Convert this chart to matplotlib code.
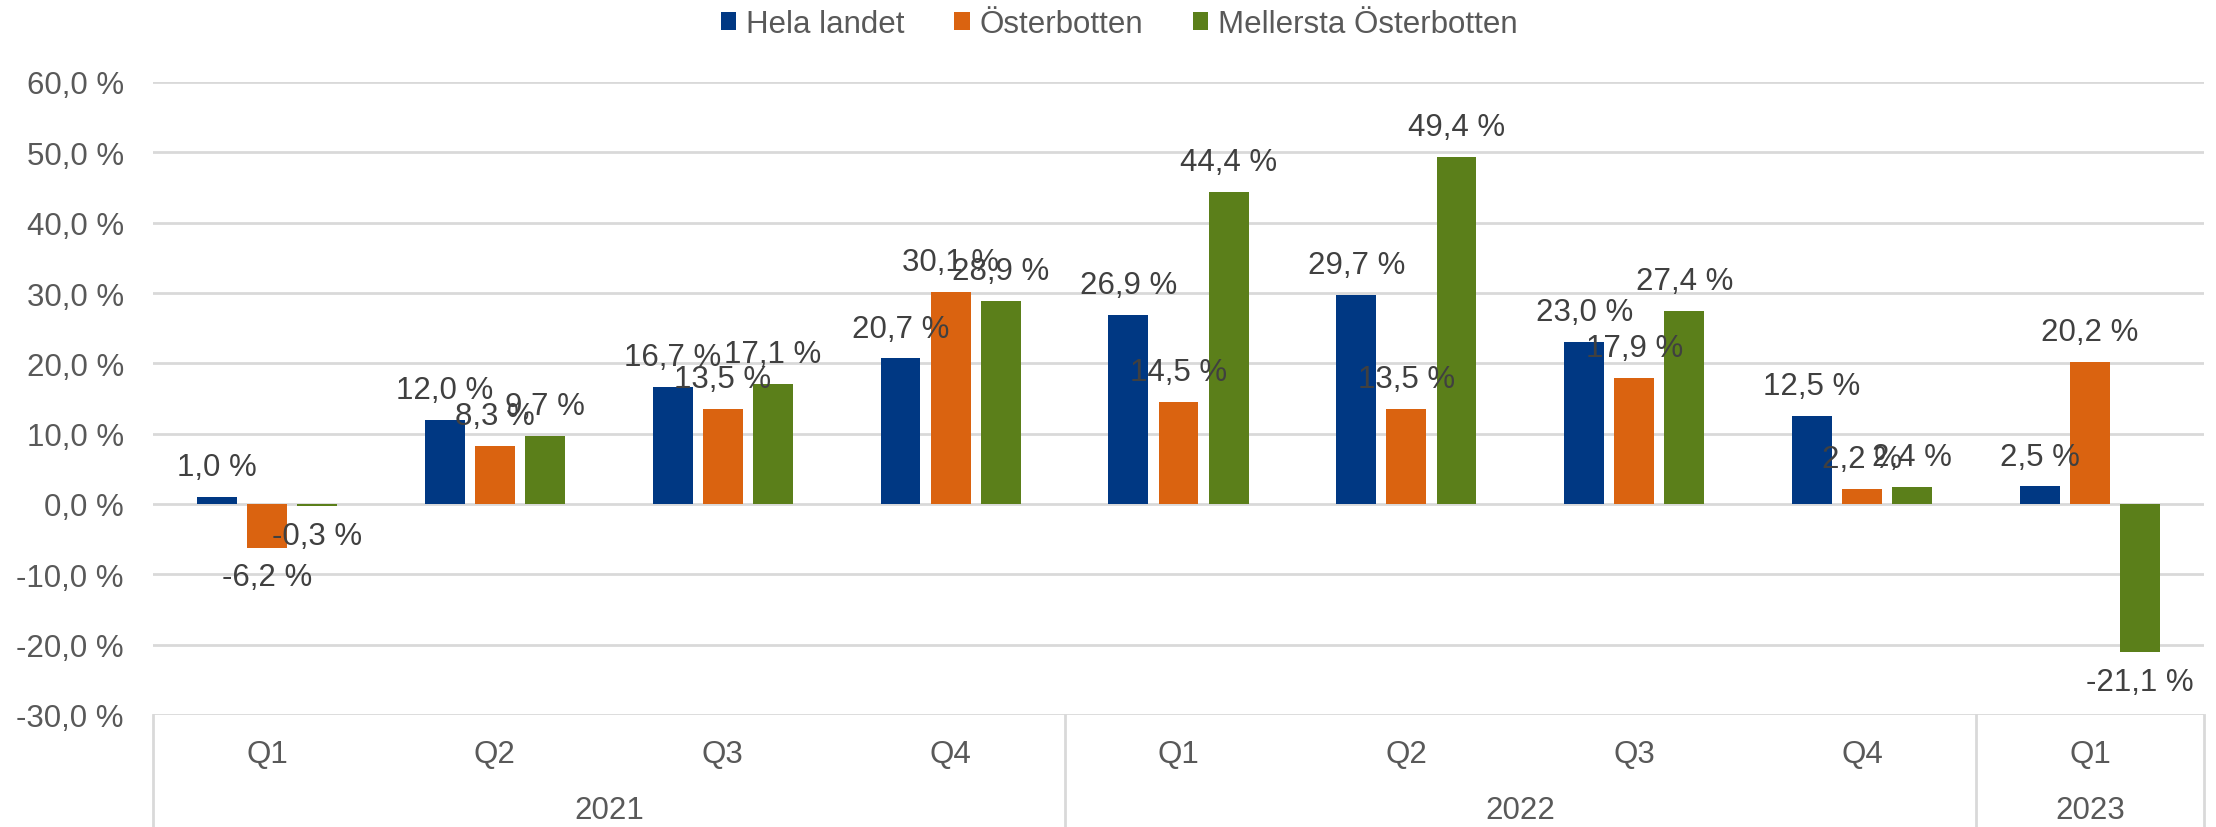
import numpy as np
import matplotlib
matplotlib.use("Agg")
import matplotlib.pyplot as plt
from matplotlib.patches import Patch
from matplotlib.ticker import FuncFormatter

plt.rcParams["font.family"] = ["Liberation Sans", "DejaVu Sans"]

# Data
quarters = ["Q1", "Q2", "Q3", "Q4", "Q1", "Q2", "Q3", "Q4", "Q1"]
years = ["2021", "2022", "2023"]
year_spans = [(0, 3), (4, 7), (8, 8)]
series_names = ["Hela landet", "Österbotten", "Mellersta Österbotten"]
hela_landet = [1.0, 12.0, 16.7, 20.7, 26.9, 29.7, 23.0, 12.5, 2.5]
osterbotten = [-6.2, 8.3, 13.5, 30.1, 14.5, 13.5, 17.9, 2.2, 20.2]
mellersta = [-0.3, 9.7, 17.1, 28.9, 44.4, 49.4, 27.4, 2.4, -21.1]
colors = ["#003883", "#DA6310", "#5B7F1A"]

FS = 22.5
W, H = 2216, 828
fig = plt.figure(figsize=(W / 100, H / 100), dpi=100)
left, right, top, bottom = 153, 2204, 83, 716
ax = fig.add_axes([left / W, (H - bottom) / H, (right - left) / W, (bottom - top) / H])

x = np.arange(len(quarters))
width = 0.175
step = 0.22
for i, (vals, name, col) in enumerate(zip([hela_landet, osterbotten, mellersta], series_names, colors)):
    xs = x + (i - 1) * step
    ax.bar(xs, vals, width, color=col, label=name, zorder=3)
    for xv, v in zip(xs, vals):
        lab = f"{v:.1f}".replace(".", ",") + " %"
        off = 21.5 if v >= 0 else -21.5
        ax.annotate(lab, (xv, v), xytext=(0, off), textcoords="offset points",
                    ha="center", va="center", fontsize=FS, color="#404040", zorder=5)

ax.set_xlim(-0.5, len(quarters) - 0.5)
ax.set_ylim(-30, 60)
ax.set_yticks(np.arange(-30, 61, 10))
ax.yaxis.set_major_formatter(FuncFormatter(lambda v, p: f"{v:.1f}".replace(".", ",") + " %"))
ax.tick_params(axis="y", length=0, pad=21, labelsize=FS, labelcolor="#595959")
ax.set_xticks([])
ax.grid(axis="y", color="#D9D9D9", linewidth=2, zorder=0)
for s in ax.spines.values():
    s.set_visible(False)

# category axis (quarters + years)
trans = ax.get_xaxis_transform()
ybot = -(H - bottom) / (bottom - top)
for xv in [-0.5, 3.5, 7.5, 8.5]:
    ax.plot([xv, xv], [0, ybot], transform=trans, color="#D9D9D9", lw=2, clip_on=False)
for xv, q in zip(x, quarters):
    ax.text(xv, -(755 - bottom) / (bottom - top), q, transform=trans, ha="center", va="center",
            fontsize=FS, color="#595959")
for yr, (a, b) in zip(years, year_spans):
    ax.text((a + b) / 2, -(811 - bottom) / (bottom - top), yr, transform=trans, ha="center",
            va="center", fontsize=FS, color="#595959")

handles = [Patch(facecolor=c, edgecolor="none") for c in colors]
fig.legend(handles, series_names, loc="center", bbox_to_anchor=(0.505, 1 - 25 / H), ncol=3,
           frameon=False, fontsize=FS, handlelength=0.5, handleheight=0.5, handletextpad=0.3,
           columnspacing=1.6, labelcolor="#595959")

fig.savefig("out.png", dpi=100)
